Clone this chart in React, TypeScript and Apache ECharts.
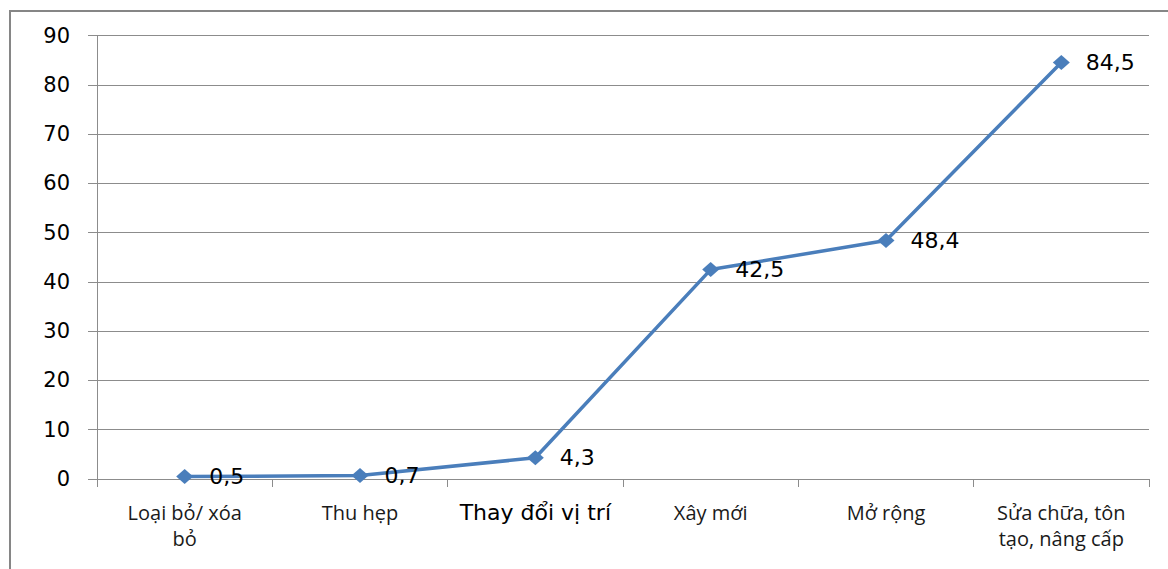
import React, { useEffect, useRef } from "react";
import * as echarts from "echarts";

const categories = [
  "Loại bỏ/ xóa\nbỏ",
  "Thu hẹp",
  "Thay đổi vị trí",
  "Xây mới",
  "Mở rộng",
  "Sửa chữa, tôn\ntạo, nâng cấp",
];
const values = [0.5, 0.7, 4.3, 42.5, 48.4, 84.5];
const highlightedCategory = "Thay đổi vị trí";

export default function App() {
  const ref = useRef<HTMLDivElement>(null);
  useEffect(() => {
    document.body.style.margin = "0";
    const chart = echarts.init(ref.current!, null, { renderer: "svg" });
    chart.setOption({
      animation: false,
      backgroundColor: "#ffffff",
      graphic: [
        {
          type: "rect",
          shape: { x: 10, y: 11, width: 1300, height: 700 },
          style: { fill: "none", stroke: "#868686", lineWidth: 2 },
          silent: true,
        },
      ],
      grid: { left: 97, right: 19, top: 35.5, bottom: 90, containLabel: false },
      xAxis: {
        type: "category",
        data: categories.map((c) =>
          c === highlightedCategory
            ? { value: c, textStyle: { fontSize: 22, color: "#000", fontFamily: "DejaVu Sans", lineHeight: 26 } }
            : c
        ),
        boundaryGap: true,
        axisLine: { show: true, lineStyle: { color: "#8c8c8c", width: 1 } },
        axisTick: { show: true, length: 8, lineStyle: { color: "#8c8c8c" } },
        axisLabel: {
          interval: 0,
          fontFamily: "Open Sans",
          fontSize: 20,
          color: "#1a1a1a",
          lineHeight: 26,
          margin: 20,
        },
      },
      yAxis: {
        type: "value",
        min: 0,
        max: 90,
        interval: 10,
        axisLine: { show: true, lineStyle: { color: "#8c8c8c", width: 1 } },
        axisTick: { show: true, length: 9, lineStyle: { color: "#8c8c8c" } },
        splitLine: { show: true, lineStyle: { color: "#8c8c8c", width: 1 } },
        axisLabel: {
          fontFamily: "DejaVu Sans",
          fontSize: 21,
          color: "#000",
          margin: 27,
        },
      },
      series: [
        {
          type: "line",
          data: values,
          symbol: "diamond",
          symbolSize: [17, 15],
          lineStyle: { color: "#4a7ebb", width: 3.5 },
          itemStyle: { color: "#4a7ebb" },
          label: {
            show: true,
            position: "right",
            distance: 16,
            offset: [0, 0],
            fontFamily: "DejaVu Sans",
            fontSize: 22,
            color: "#000",
            formatter: (p: any) => String(p.value).replace(".", ","),
          },
        },
      ],
    });
    return () => chart.dispose();
  }, []);
  return <div ref={ref} style={{ width: 1168, height: 569 }} />;
}
